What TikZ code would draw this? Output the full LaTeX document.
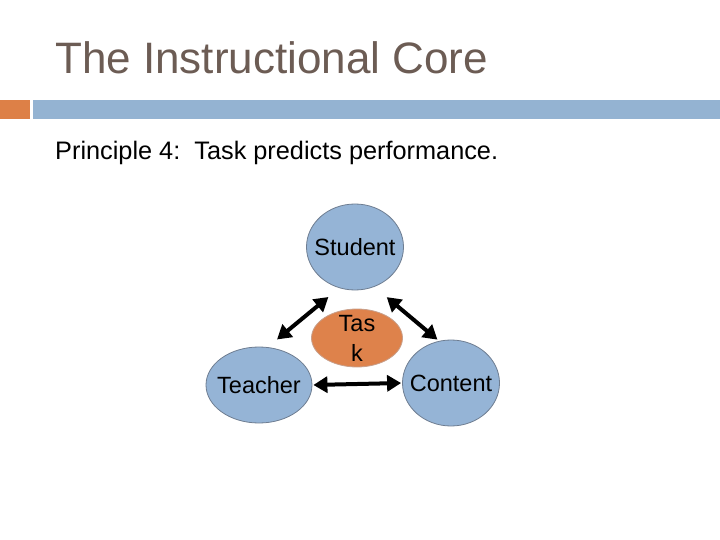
\documentclass[tikz,border=0pt]{standalone}
\usepackage{fontspec}
\setmainfont{Liberation Sans}
\usetikzlibrary{shapes.geometric,arrows.meta}
\definecolor{bluebar}{RGB}{148,179,210}
\definecolor{orangebar}{RGB}{221,128,71}
\definecolor{titlecol}{RGB}{108,92,84}
\definecolor{nodeblue}{RGB}{149,180,214}
\definecolor{nodeedge}{RGB}{110,125,145}
\definecolor{taskorange}{RGB}{222,130,75}
\definecolor{taskedge}{RGB}{200,160,140}
\tikzset{
  lbl/.style={font=\fontsize{23.5}{30}\selectfont, align=center, inner sep=0pt},
  bluenode/.style={ellipse, draw=nodeedge, fill=nodeblue, line width=0.8pt, inner sep=0pt},
  tasknode/.style={ellipse, draw=taskedge, fill=taskorange, line width=0.8pt, inner sep=0pt},
  dbl/.style={line width=4pt, {Triangle[length=14pt,width=16pt]}-{Triangle[length=14pt,width=16pt]}},
  txt/.style={anchor=base west, inner sep=0pt}
}
\begin{document}
\begin{tikzpicture}[x=1pt,y=-1pt]
\useasboundingbox (0,0) rectangle (720,540);
\fill[white] (0,0) rectangle (720,540);
% header bars
\fill[orangebar] (0,100) rectangle (30,119);
\fill[bluebar] (33,100) rectangle (720,119);
% title and subtitle
\node[txt, text=titlecol, font=\fontsize{44}{50}\selectfont] (title) at (55,74) {The Instructional Core};
\node[txt, font=\fontsize{25.3}{30}\selectfont] (sub) at (55,160) {Principle 4:\ \ Task predicts performance.};
% nodes
\node[bluenode, minimum width=97pt, minimum height=86pt, label={[lbl]center:Student}] (student) at (355,247) {};
\node[bluenode, minimum width=106pt, minimum height=76pt, label={[lbl]center:Teacher}] (teacher) at (259,385) {};
\node[bluenode, minimum width=97pt, minimum height=86pt, label={[lbl]center:Content}] (content) at (451,383) {};
\node[tasknode, minimum width=91pt, minimum height=58pt, label={[lbl]center:Tas\\k}] (task) at (357,338) {};
% connectors
\draw[dbl, shorten <=12pt, shorten >=14pt] (teacher.77) -- (student.249);
\draw[dbl, shorten <=16pt, shorten >=2pt] (student.296) -- (content.106);
\draw[dbl, shorten <=1pt, shorten >=1pt] (teacher.east) -- (content.west);
\end{tikzpicture}
\end{document}
